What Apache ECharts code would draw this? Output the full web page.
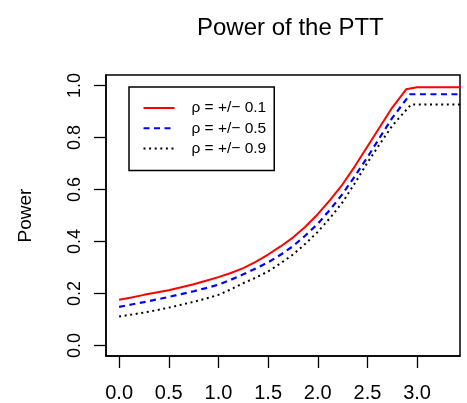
<!DOCTYPE html>
<html>
<head>
<meta charset="utf-8">
<script src="https://cdn.jsdelivr.net/npm/echarts@6/dist/echarts.min.js"></script>
<style>
html,body{margin:0;padding:0;background:#fff;}
#chart{width:467px;height:403px;}
</style>
</head>
<body>
<div id="chart"></div>
<script>
var titleText = 'Power of the PTT';
var yName = 'Power';
var xTicks = [0, 0.5, 1, 1.5, 2, 2.5, 3];
var yTicks = [0, 0.2, 0.4, 0.6, 0.8, 1];
var seriesNames = ['\u03c1 = +/\u2212 0.1', '\u03c1 = +/\u2212 0.5', '\u03c1 = +/\u2212 0.9'];

var xRho01 = [0, 0.125, 0.25, 0.375, 0.5, 0.625, 0.75, 0.875, 1.0, 1.125, 1.25, 1.375, 1.5, 1.625, 1.75, 1.875, 2.0, 2.125, 2.25, 2.375, 2.5, 2.625, 2.75, 2.89, 3.0, 3.5];
var yRho01 = [0.176, 0.185, 0.195, 0.204, 0.213, 0.224, 0.236, 0.249, 0.263, 0.279, 0.298, 0.322, 0.350, 0.381, 0.415, 0.457, 0.505, 0.560, 0.620, 0.690, 0.765, 0.840, 0.915, 0.985, 0.993, 0.993];

var xRho05 = [0, 0.125, 0.25, 0.375, 0.5, 0.625, 0.75, 0.875, 1.0, 1.125, 1.25, 1.375, 1.5, 1.625, 1.75, 1.875, 2.0, 2.125, 2.25, 2.375, 2.5, 2.625, 2.75, 2.93, 3.5];
var yRho05 = [0.149, 0.158, 0.167, 0.177, 0.187, 0.198, 0.209, 0.221, 0.234, 0.253, 0.274, 0.296, 0.320, 0.349, 0.382, 0.423, 0.468, 0.523, 0.583, 0.652, 0.724, 0.800, 0.875, 0.966, 0.966];

var xRho09 = [0, 0.125, 0.25, 0.375, 0.5, 0.625, 0.75, 0.875, 1.0, 1.125, 1.25, 1.375, 1.5, 1.625, 1.75, 1.875, 2.0, 2.125, 2.25, 2.375, 2.5, 2.625, 2.75, 2.94, 3.5];
var yRho09 = [0.112, 0.119, 0.127, 0.136, 0.146, 0.157, 0.168, 0.181, 0.195, 0.216, 0.240, 0.261, 0.285, 0.316, 0.350, 0.391, 0.437, 0.491, 0.551, 0.625, 0.703, 0.775, 0.845, 0.927, 0.927];

function pairs(xs, ys) { return xs.map(function (x, i) { return [x, ys[i]]; }); }

var FONT = '"Liberation Sans", Arial, Helvetica, sans-serif';
var chart = echarts.init(document.getElementById('chart'), null, {renderer: 'canvas'});
chart.setOption({
  animation: false,
  backgroundColor: '#ffffff',
  title: {
    text: titleText,
    left: 192,
    top: 11,
    textStyle: {fontFamily: FONT, fontSize: 24, fontWeight: 'normal', color: '#000'}
  },
  legend: {
    orient: 'vertical',
    left: 129,
    top: 87,
    itemWidth: 31,
    itemHeight: 14,
    itemGap: 4.3,
    padding: [13, 8, 14, 13.5],
    borderColor: '#000',
    borderWidth: 1.5,
    borderRadius: 0,
    selectedMode: false,
    itemStyle: {opacity: 0},
    data: seriesNames,
    textStyle: {fontFamily: FONT, fontSize: 15.5, color: '#000', padding: [0, 0, 0, 12]}
  },
  grid: {
    left: 106, right: 7, top: 75, bottom: 47,
    show: true, borderColor: '#000', borderWidth: 1.5, backgroundColor: 'transparent'
  },
  xAxis: {
    type: 'value', min: -0.132, max: 3.432,
    splitLine: {show: false},
    axisLine: {show: true, onZero: false, lineStyle: {color: '#000', width: 1.5}},
    axisTick: {show: true, length: 12, customValues: xTicks, lineStyle: {color: '#000', width: 1.3}},
    axisLabel: {
      customValues: xTicks, margin: 27,
      formatter: function (v) { return v.toFixed(1); },
      fontFamily: FONT, fontSize: 20, color: '#000'
    }
  },
  yAxis: {
    type: 'value', min: -0.04, max: 1.04,
    name: yName, nameLocation: 'middle', nameGap: 71, nameRotate: 90,
    nameTextStyle: {fontFamily: FONT, fontSize: 19, color: '#000'},
    splitLine: {show: false},
    axisLine: {show: true, onZero: false, lineStyle: {color: '#000', width: 1.5}},
    axisTick: {show: true, length: 12, customValues: yTicks, lineStyle: {color: '#000', width: 1.3}},
    axisLabel: {
      customValues: yTicks, margin: 22, rotate: 90,
      formatter: function (v) { return v.toFixed(1); },
      fontFamily: FONT, fontSize: 18, color: '#000'
    }
  },
  series: [
    {name: seriesNames[0], type: 'line', symbol: 'none', clip: true, data: pairs(xRho01, yRho01),
     lineStyle: {color: '#ff0000', width: 2, type: 'solid'}, itemStyle: {color: '#ff0000'}},
    {name: seriesNames[1], type: 'line', symbol: 'none', clip: true, data: pairs(xRho05, yRho05),
     lineStyle: {color: '#0000ff', width: 2.2, type: [6, 4.5]}, itemStyle: {color: '#0000ff'}},
    {name: seriesNames[2], type: 'line', symbol: 'none', clip: true, data: pairs(xRho09, yRho09),
     lineStyle: {color: '#000000', width: 2, type: [2, 3.6]}, itemStyle: {color: '#000000'}}
  ]
});
</script>
</body>
</html>
